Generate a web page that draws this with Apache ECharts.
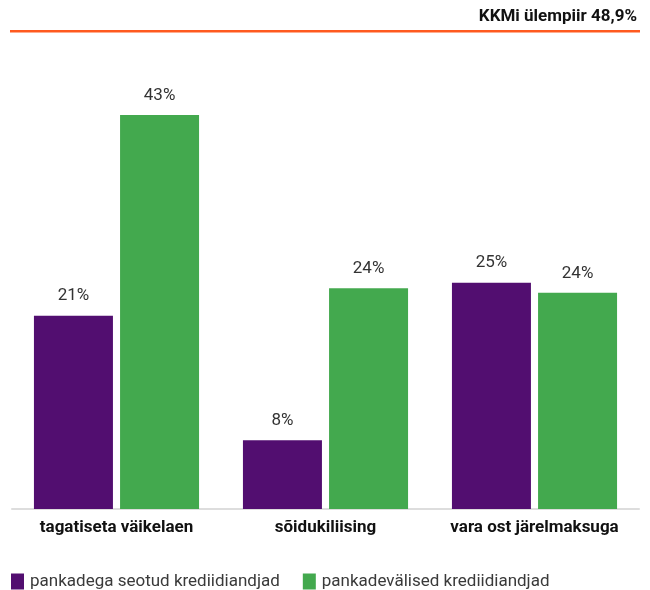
<!DOCTYPE html>
<html><head><meta charset="utf-8">
<script src="https://cdn.jsdelivr.net/npm/echarts@6/dist/echarts.min.js"></script>
<style>html,body{margin:0;padding:0;background:#fff}#c{width:650px;height:590px}</style>
</head><body><div id="c"></div>
<script>
const categories = ['tagatiseta väikelaen', 'sõidukiliising', 'vara ost järelmaksuga'];
const seriesNames = ['pankadega seotud krediidiandjad', 'pankadevälised krediidiandjad'];
const bankLinked = [21.1, 7.5, 24.7];
const nonBank = [43.0, 24.1, 23.6];
const titleText = 'KKMi ülempiir 48,9%';

const chart = echarts.init(document.getElementById('c'), null, {renderer: 'canvas'});
const labelCfg = {
  show: true, position: 'top', distance: 11,
  fontFamily: 'Roboto', fontSize: 17, color: '#333',
  formatter: p => Math.round(p.value) + '%'
};
chart.setOption({
  animation: false,
  textStyle: {fontFamily: 'Roboto'},
  graphic: [
    {type: 'text', right: 13, top: 8, style: {text: titleText, fontFamily: 'Roboto', fontWeight: 'bold', fontSize: 17, fill: '#111'}},
    {type: 'rect', shape: {x: 10, y: 30, width: 630, height: 2.5}, style: {fill: '#FF5A1F'}}
  ],
  legend: {
    left: 6, top: 568, itemWidth: 13, itemHeight: 16, itemGap: 23,
    icon: 'rect',
    textStyle: {fontFamily: 'Roboto', fontSize: 17, color: '#3a3a3a', padding: [2, 0, 0, 1]},
    data: seriesNames
  },
  grid: {left: 12, right: 11, top: 51, bottom: 81},
  xAxis: {
    type: 'category', data: categories,
    axisLine: {lineStyle: {color: '#ddd', width: 2}},
    axisTick: {show: false},
    axisLabel: {interval: 0, hideOverlap: false, fontFamily: 'Roboto', fontWeight: 'bold', fontSize: 17, color: '#111', margin: 10}
  },
  yAxis: {type: 'value', min: 0, max: 50, show: false, splitLine: {show: false}},
  series: [
    {name: seriesNames[0], type: 'bar', data: bankLinked, barWidth: 79, barGap: '9%', itemStyle: {color: '#520E70'}, label: labelCfg},
    {name: seriesNames[1], type: 'bar', data: nonBank, barWidth: 79, barGap: '9%', itemStyle: {color: '#43A94E'}, label: labelCfg}
  ]
});
</script></body></html>
